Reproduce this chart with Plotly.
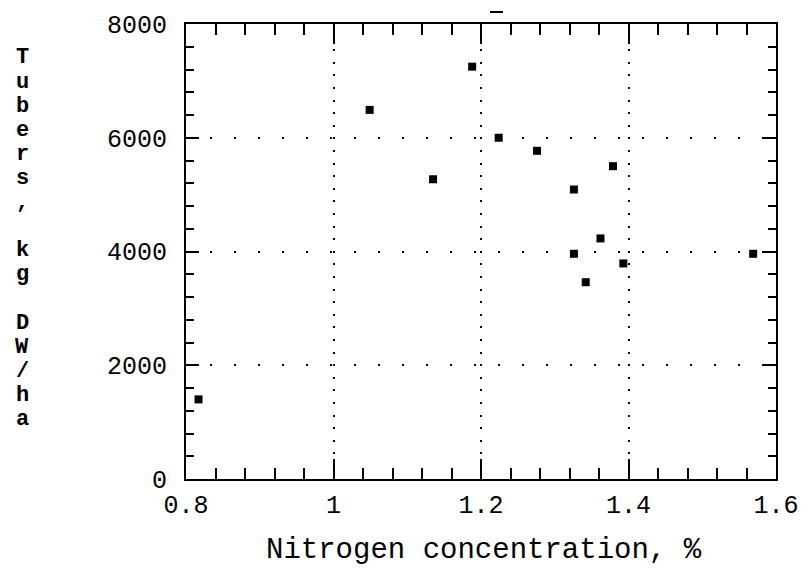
import plotly.graph_objects as go

# Data
nitrogen_pct = [0.817, 1.049, 1.135, 1.188, 1.224, 1.276, 1.326, 1.379, 1.326, 1.362, 1.342, 1.393, 1.569]
tubers_kg_ha = [1400, 6490, 5270, 7250, 6000, 5770, 5090, 5500, 3960, 4230, 3460, 3790, 3960]

x_ticks = [0.8, 1.0, 1.2, 1.4, 1.6]
x_tick_labels = ["0.8", "1", "1.2", "1.4", "1.6"]
y_ticks = [0, 2000, 4000, 6000, 8000]
y_tick_labels = ["0", "2000", "4000", "6000", "8000"]

x_title = "Nitrogen concentration, %"
y_title = "Tubers, kg DW/ha"

FONT = "Liberation Mono"
OFF = 8  # default page body margin
W, H = 811 - OFF, 571 - OFF
PL, PR, PT, PB = 186, 776, 24, 479   # plot area in screen pixels
L, T = PL - OFF, PT - OFF
R = W - L - (PR - PL)
B = H - T - (PB - PT)
plot_w, plot_h = PR - PL, PB - PT


def px(xs):
    return (xs - PL) / plot_w


def py(ys):
    return (PB - ys) / plot_h


fig = go.Figure()
fig.add_trace(go.Scatter(
    x=nitrogen_pct, y=tubers_kg_ha, mode="markers",
    marker=dict(symbol="square", size=8, color="black"),
    showlegend=False, cliponaxis=False,
))

axis_common = dict(
    showline=True, linecolor="black", linewidth=2, mirror="ticks",
    ticks="inside", tickcolor="black", tickwidth=2,
    showgrid=True, gridcolor="black", gridwidth=2,
    zeroline=False,
    tickfont=dict(family=FONT, size=25, color="black"),
)

fig.update_xaxes(
    **axis_common,
    range=[0.8, 1.6], tickvals=x_ticks, ticktext=x_tick_labels,
    ticklen=20, griddash="2px,10.6px",
    minor=dict(dtick=0.04, tick0=0.8, ticks="inside", ticklen=11, tickwidth=2,
               tickcolor="black", showgrid=False),
    ticklabelstandoff=2,
)
fig.update_yaxes(
    **axis_common,
    range=[0, 8000], tickvals=y_ticks, ticktext=y_tick_labels,
    ticklen=13, griddash="2px,22px",
    minor=dict(dtick=400, tick0=0, ticks="inside", ticklen=8, tickwidth=2,
               tickcolor="black", showgrid=False),
    ticklabelstandoff=12,
)

annotations = [dict(
    text=x_title, xref="paper", yref="paper", x=px(484), y=py(550),
    xanchor="center", yanchor="middle", showarrow=False,
    font=dict(family=FONT, size=29, color="black"),
)]
# vertical stacked y-axis title (upright letters)
pitch = 24.1
top_center = 58
for i, ch in enumerate(y_title):
    if ch == " ":
        continue
    annotations.append(dict(
        text="<b>" + ch + "</b>", xref="paper", yref="paper",
        x=px(22), y=py(top_center + i * pitch),
        xanchor="center", yanchor="middle", showarrow=False,
        font=dict(family=FONT, size=22, color="black"),
    ))

fig.update_layout(
    width=W, height=H,
    margin=dict(l=L, r=R, t=T, b=B, autoexpand=False),
    paper_bgcolor="white", plot_bgcolor="white",
    annotations=annotations,
    shapes=[dict(type="line", xref="paper", yref="paper",
                 x0=px(490), x1=px(503), y0=py(12), y1=py(12),
                 line=dict(color="black", width=2))],
)

fig.write_html("out.html")
